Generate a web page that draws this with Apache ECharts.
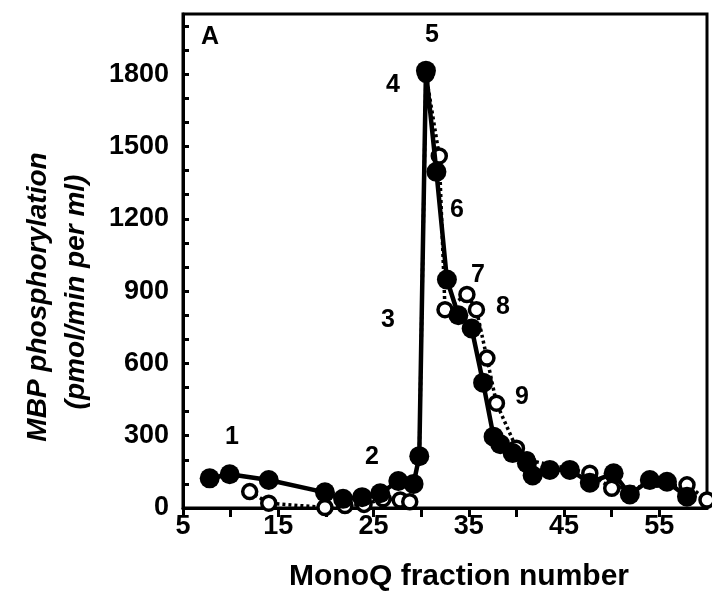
<!DOCTYPE html>
<html>
<head>
<meta charset="utf-8">
<script src="https://cdn.jsdelivr.net/npm/echarts@6/dist/echarts.min.js"></script>
<style>
html,body{margin:0;padding:0;background:#fff;}
#chart{width:712px;height:597px;}
</style>
</head>
<body>
<div id="chart"></div>
<script>
// MonoQ fraction number vs MBP phosphorylation (pmol/min per ml)
var filledX = [7.8, 9.9, 14, 19.9, 21.8, 23.8, 25.7, 27.6, 29.2, 29.8, 30.5, 31.6, 32.7, 33.9, 35.3, 36.5, 37.6, 38.3, 39.6, 41.1, 41.7, 43.5, 45.6, 47.7, 50.2, 51.9, 54, 55.8, 57.9];
var filledY = [123, 140, 116, 65, 38, 45, 61, 112, 100, 215, 1815, 1395, 948, 800, 745, 520, 296, 265, 228, 186, 135, 158, 158, 105, 144, 56, 116, 109, 47];
var openX = [12, 14, 19.9, 22, 24, 26, 27.8, 28.8, 29.8, 30.5, 31.9, 32.5, 34.8, 35.8, 36.9, 37.9, 40, 41.1, 47.7, 50, 57.9, 60];
var openY = [68, 20, 2, 10, 15, 38, 33, 26, 215, 1800, 1461, 823, 886, 823, 622, 435, 248, 200, 144, 82, 96, 33];
var yTickLabels = [0, 300, 600, 900, 1200, 1500, 1800];
var xTickLabels = [5, 15, 25, 35, 45, 55];
var peakLabels = ['A', '1', '2', '3', '4', '5', '6', '7', '8', '9'];
var xTitle = 'MonoQ fraction number';
var yTitle = ['MBP phosphorylation', '(pmol/min per ml)'];

function pairs(xs, ys) { return xs.map(function (x, i) { return [x, ys[i]]; }); }

var FONT = '"Liberation Sans", Arial, Helvetica, sans-serif';
var chart = echarts.init(document.getElementById('chart'), null, {renderer: 'canvas'});

var labelPos = [[210, 37], [232, 437], [372, 457], [388, 320], [393, 85], [432, 35], [457, 210], [478, 275], [503, 307], [522, 397]];
var graphics = peakLabels.map(function (t, i) {
  return {
    type: 'text', x: labelPos[i][0], y: labelPos[i][1], z: 100,
    style: {text: t, font: 'bold 25px ' + FONT, fill: '#000', textAlign: 'center', textVerticalAlign: 'middle'}
  };
});
graphics.push({
  type: 'text', x: 459, y: 577, z: 100,
  style: {text: xTitle, font: 'bold 30px ' + FONT, fill: '#000', textAlign: 'center', textVerticalAlign: 'middle'}
});
graphics.push({
  type: 'text', x: 38, y: 297, rotation: Math.PI / 2, z: 100,
  style: {text: yTitle[0], font: 'italic bold 28px ' + FONT, fill: '#000', textAlign: 'center', textVerticalAlign: 'middle'}
});
graphics.push({
  type: 'text', x: 76, y: 292, rotation: Math.PI / 2, z: 100,
  style: {text: yTitle[1], font: 'italic bold 28px ' + FONT, fill: '#000', textAlign: 'center', textVerticalAlign: 'middle'}
});

chart.setOption({
  animation: false,
  backgroundColor: '#fff',
  grid: {left: 183, right: 5, top: 14, bottom: 89, show: true, borderColor: '#000', borderWidth: 3, backgroundColor: 'transparent'},
  xAxis: {
    type: 'value', min: 5, max: 60, interval: 5,
    axisLine: {show: true, onZero: false, lineStyle: {color: '#000', width: 3}},
    axisTick: {show: true, inside: false, length: 9, lineStyle: {color: '#000', width: 3}},
    splitLine: {show: false},
    axisLabel: {
      margin: 5, fontFamily: FONT, fontSize: 27, fontWeight: 'bold', color: '#000',
      showMaxLabel: false,
      formatter: function (v) { return xTickLabels.indexOf(v) >= 0 ? String(v) : ''; }
    }
  },
  yAxis: {
    type: 'value', min: 0, max: 2050, interval: 100,
    axisLine: {show: true, onZero: false, lineStyle: {color: '#000', width: 3}},
    axisTick: {show: true, inside: true, length: 6, lineStyle: {color: '#000', width: 3}},
    splitLine: {show: false},
    axisLabel: {
      margin: 14, fontFamily: FONT, fontSize: 27, fontWeight: 'bold', color: '#000',
      showMaxLabel: false,
      formatter: function (v) { return yTickLabels.indexOf(v) >= 0 ? String(v) : ''; }
    }
  },
  series: [
    {
      type: 'line', data: pairs(openX, openY), z: 3,
      symbol: 'circle', symbolSize: 14, showSymbol: true,
      itemStyle: {color: '#fff', borderColor: '#000', borderWidth: 3.5},
      lineStyle: {color: '#000', width: 3.5, type: [3, 3]},
      clip: false
    },
    {
      type: 'line', data: pairs(filledX, filledY), z: 4,
      symbol: 'circle', symbolSize: 20, showSymbol: true,
      itemStyle: {color: '#000', borderColor: '#000', borderWidth: 0},
      lineStyle: {color: '#000', width: 4.5},
      clip: false
    }
  ],
  graphic: graphics
});
</script>
</body>
</html>
